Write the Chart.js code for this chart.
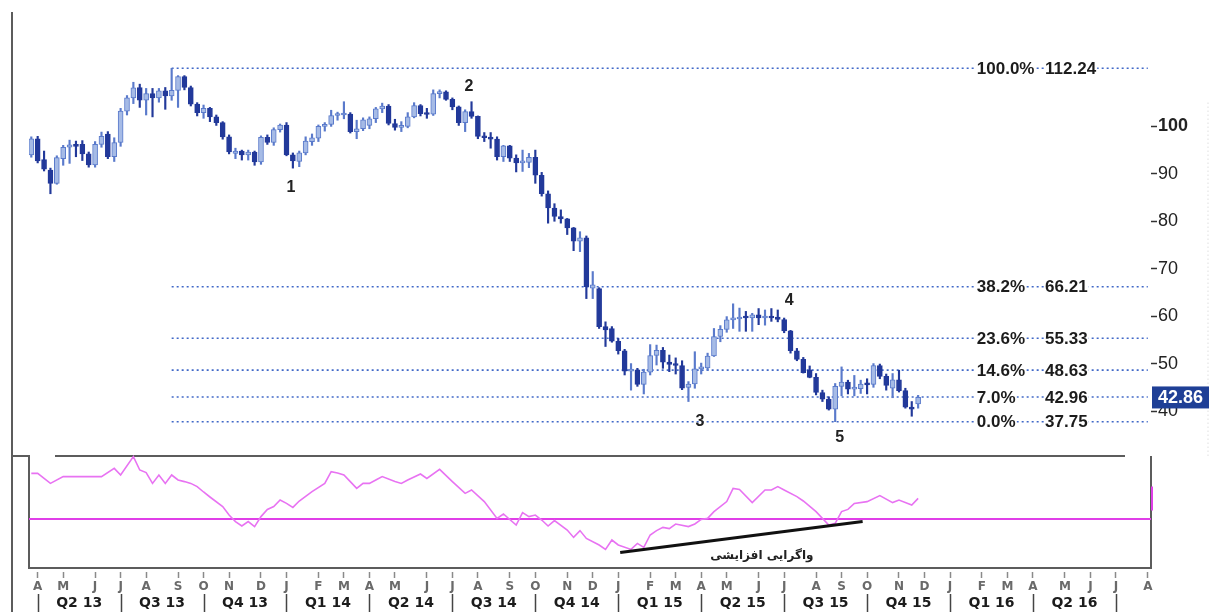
<!DOCTYPE html>
<html>
<head>
<meta charset="utf-8">
<title>Weekly crude chart - Fibonacci levels and momentum</title>
<script src="https://cdn.jsdelivr.net/npm/chart.js@4.4.1/dist/chart.umd.min.js"></script>
<style>
    html, body { margin: 0; padding: 0; background: #fff; }
    #wrap { width: 1216px; height: 612px; }
</style>
</head>
<body>
<div id="wrap"><canvas id="priceChart" width="1216" height="612"></canvas></div>
<script>
// x axis unit = weeks, week 0 = week of 1 Apr 2013
const firstWeek = -1;

const open = [
    94.0, 97.4, 93.0, 90.8, 88.0, 93.2, 95.6, 96.1, 96.2, 94.2,
    91.9, 96.2, 98.4, 93.6, 96.6, 103.2, 106.0, 108.2, 105.5, 106.9,
    106.0, 107.5, 106.4, 107.6, 110.5, 108.2, 104.7, 102.9, 103.8, 102.0,
    100.8, 97.8, 94.3, 94.8, 94.0, 94.6, 92.5, 97.7, 96.6, 99.3,
    100.3, 94.0, 92.6, 94.4, 96.8, 97.5, 100.0, 100.4, 102.3, 102.4,
    102.6, 98.9, 99.5, 100.2, 101.6, 103.7, 104.3, 100.6, 99.8, 100.0,
    102.0, 104.4, 102.8, 102.6, 106.9, 107.3, 105.7, 104.1, 100.8, 103.1,
    102.1, 97.9, 97.6, 97.3, 93.6, 95.9, 93.3, 92.3, 92.4, 93.5,
    89.7, 85.8, 82.8, 81.0, 80.5, 78.6, 75.8, 76.5, 65.9, 65.8,
    57.8, 57.4, 54.7, 52.7, 48.4, 48.7, 45.6, 48.2, 51.7, 52.8,
    50.3, 49.8, 49.6, 45.0, 45.7, 48.9, 49.1, 51.6, 55.7, 57.2,
    59.2, 59.4, 59.9, 59.6, 60.3, 59.6, 60.0, 59.8, 59.3, 56.9,
    52.7, 50.9, 48.7, 47.1, 43.9, 42.5, 40.4, 45.2, 46.1, 44.6,
    44.7, 45.7, 45.6, 49.6, 47.3, 44.8, 46.6, 44.3, 40.8, 41.5
];
const high = [
    97.8, 97.9, 94.8, 91.2, 93.8, 96.0, 97.1, 96.9, 97.0, 94.6,
    96.8, 98.8, 98.9, 97.6, 103.8, 106.5, 109.3, 108.9, 108.0, 108.0,
    108.0, 108.2, 112.24, 110.7, 110.7, 108.5, 105.0, 104.5, 104.0, 102.4,
    101.0, 98.2, 95.4, 95.0, 95.0, 94.8, 98.0, 98.2, 99.7, 100.5,
    100.8, 94.4, 94.8, 97.8, 98.4, 100.3, 100.8, 103.4, 103.0, 105.2,
    102.9, 101.3, 101.8, 102.0, 104.0, 104.9, 104.6, 101.5, 101.0, 102.9,
    105.0, 104.6, 103.8, 107.7, 107.7, 107.5, 106.0, 104.3, 103.5, 105.2,
    102.2, 98.7, 98.7, 97.8, 96.0, 96.0, 94.0, 95.0, 94.3, 95.0,
    90.3, 86.4, 83.7, 82.4, 80.6, 78.7, 77.8, 76.9, 69.4, 66.0,
    58.8, 57.8, 55.3, 53.0, 50.0, 49.0, 48.8, 54.0, 53.9, 53.4,
    51.8, 51.2, 50.6, 46.2, 52.5, 50.1, 52.2, 57.4, 58.0, 59.9,
    62.6, 61.7, 61.0, 60.6, 61.6, 61.3, 61.6, 61.3, 59.6, 57.0,
    53.2, 51.3, 49.5, 47.9, 44.4, 43.0, 45.8, 49.3, 46.5, 47.5,
    46.5, 46.8, 50.0, 49.9, 47.8, 47.9, 48.6, 44.8, 42.0, 43.3
];
const low = [
    93.5, 92.3, 90.6, 85.8, 87.8, 91.8, 92.2, 93.6, 92.8, 91.4,
    91.4, 95.6, 93.2, 92.6, 95.8, 102.4, 104.8, 104.0, 102.4, 102.0,
    105.1, 103.6, 105.5, 104.0, 107.7, 104.3, 102.2, 101.7, 101.0, 100.2,
    97.3, 94.2, 93.2, 92.9, 92.9, 91.8, 92.0, 96.2, 96.0, 98.8,
    93.8, 91.2, 91.5, 94.0, 96.0, 96.8, 99.0, 100.0, 101.3, 101.6,
    98.6, 97.4, 99.1, 99.5, 100.8, 102.9, 100.3, 99.2, 98.9, 99.7,
    101.8, 102.2, 101.7, 102.3, 106.0, 105.5, 103.5, 100.2, 98.9, 101.7,
    97.4, 96.8, 95.4, 92.9, 92.6, 92.6, 90.4, 90.5, 91.3, 88.0,
    85.3, 79.6, 80.0, 79.6, 77.2, 73.8, 73.6, 63.7, 63.7, 57.4,
    53.6, 54.5, 52.0, 47.6, 44.4, 45.2, 43.6, 47.6, 49.7, 49.0,
    48.3, 47.8, 44.5, 42.0, 44.8, 47.8, 48.6, 51.5, 54.6, 56.6,
    57.4, 56.8, 56.8, 56.8, 58.2, 58.1, 58.9, 58.8, 56.5, 52.2,
    50.6, 48.0, 47.0, 43.4, 42.0, 40.2, 37.75, 43.2, 43.6, 43.2,
    43.7, 43.6, 45.0, 46.8, 44.4, 42.8, 44.0, 40.6, 38.9, 40.6
];
const close = [
    97.4, 92.7, 91.0, 88.0, 93.4, 95.6, 96.1, 95.8, 94.2, 91.9,
    96.2, 97.9, 93.6, 96.6, 103.2, 106.0, 108.1, 105.5, 106.9, 106.0,
    107.5, 106.4, 107.6, 110.5, 108.2, 104.7, 102.9, 103.8, 102.0, 100.8,
    97.8, 94.6, 94.8, 94.0, 94.6, 92.5, 97.7, 96.6, 99.3, 100.3,
    94.0, 92.7, 94.4, 96.9, 97.6, 100.0, 100.4, 102.3, 102.6, 102.6,
    98.9, 99.5, 101.4, 101.6, 103.7, 104.3, 100.6, 99.8, 100.0, 102.0,
    104.4, 102.7, 102.5, 106.9, 107.3, 105.7, 104.1, 100.8, 103.1, 102.1,
    97.9, 97.6, 97.3, 93.6, 95.9, 93.3, 92.3, 92.4, 93.5, 89.7,
    85.8, 82.8, 81.0, 80.5, 78.6, 75.8, 76.5, 66.2, 66.6, 57.8,
    57.1, 54.7, 52.7, 48.4, 48.7, 45.6, 48.2, 51.7, 52.8, 50.3,
    49.8, 49.6, 44.8, 45.7, 48.9, 49.1, 51.6, 55.7, 57.2, 59.2,
    59.4, 59.7, 59.6, 60.3, 59.6, 60.0, 59.6, 59.3, 56.9, 52.7,
    50.9, 48.1, 47.1, 43.9, 42.5, 40.4, 45.2, 46.1, 44.6, 44.7,
    45.7, 45.5, 49.6, 47.3, 45.4, 46.6, 44.3, 40.8, 40.4, 42.86
];

// momentum oscillator: [week, value]
const oscPoints = [
    [-1, 22.8], [0, 22.8], [2, 17.8], [4, 21.2], [10, 21.2], [12, 25.3], [13, 22.0],
    [15, 31.2], [16, 24.5], [17, 23.2], [18, 17.8], [19, 22.0], [20, 17.8], [21, 22.0],
    [22, 19.5], [23, 18.7], [24, 17.8], [25, 16.2], [26, 13.5], [27, 11.0], [29, 6.2],
    [30, 2.0], [31, -1.3], [32, -3.5], [33, -1.3], [34, -3.8], [35, 1.2], [36, 4.8],
    [37, 6.2], [38, 9.5], [39, 7.8], [40, 5.8], [41, 9.0], [43, 13.7], [45, 17.8],
    [46, 23.7], [47, 23.0], [48, 22.0], [49, 18.7], [50, 15.3], [51, 17.8], [52, 17.8],
    [53, 19.5], [54, 21.2], [56, 18.7], [57, 17.8], [58, 19.5], [60, 22.5], [61, 20.3],
    [63, 24.8], [65, 18.7], [67, 12.8], [68, 14.5], [70, 8.7], [72, 0.3], [73, 2.5],
    [75, -3.0], [76, 3.2], [77, 1.2], [78, 2.0], [79, -0.5], [80, -3.5], [81, -0.8],
    [83, -5.5], [84, -9.2], [85, -5.8], [86, -9.7], [88, -13.0], [89, -15.2], [90, -10.5],
    [91, -13.0], [93, -15.2], [94, -12.2], [95, -14.2], [96, -8.0], [97, -5.8], [98, -4.2],
    [99, -4.8], [100, -2.5], [102, -3.8], [103, -2.5], [104, -0.2], [105, 0.3], [106, 3.7],
    [108, 8.7], [109, 15.3], [110, 14.8], [112, 8.2], [114, 14.5], [115, 14.5], [116, 16.2],
    [117, 14.5], [119, 11.2], [120, 9.0], [122, 3.7], [124, -3.0], [125, -2.2], [126, 3.7],
    [127, 4.8], [128, 7.8], [130, 8.7], [132, 11.7], [134, 8.2], [135, 9.5], [137, 7.0],
    [138, 10.3]
];

// Fibonacci retracement of the Aug 2013 high -> Aug 2015 low
const fibLabels = ['100.0%', '38.2%', '23.6%', '14.6%', '7.0%', '0.0%'];
const fibValues = [112.24, 66.21, 55.33, 48.63, 42.96, 37.75];
const fibFromWeek = 21;
const fibToWeek = 174;
const fibPctWeek = 147.2;
const fibValWeek = 157.9;

// Elliott wave counts
const waveLabels = ['1', '2', '3', '4', '5'];
const waveWeeks = [39.7, 67.6, 103.8, 117.8, 125.7];
const wavePrices = [87.0, 108.3, 37.7, 63.2, 34.3];

// bullish divergence trend line on the oscillator
const divWeeks = [91.3, 129.3];
const divValues = [-16.7, -1.3];
const divText = 'واگرایی افزایشی';
const divTextAt = [113.5, -18.5];

const lastPrice = 42.86;

// bottom axis: months (week of first trading day) and quarters
const monthWeeks = [0, 4, 9, 13, 17, 22, 26, 30, 35, 39, 44, 48, 52, 56, 61, 65, 69, 74, 78, 83, 87,
    91, 96, 100, 104, 108, 113, 117, 122, 126, 130, 135, 139, 143, 148, 152, 156, 161, 165, 169, 174];
const monthLetters = ['A', 'M', 'J', 'J', 'A', 'S', 'O', 'N', 'D', 'J', 'F', 'M', 'A', 'M', 'J', 'J', 'A', 'S', 'O', 'N', 'D',
    'J', 'F', 'M', 'A', 'M', 'J', 'J', 'A', 'S', 'O', 'N', 'D', 'J', 'F', 'M', 'A', 'M', 'J', 'J', 'A'];
const quarterStarts = [0, 13, 26, 39, 52, 65, 78, 91, 104, 117, 130, 143, 156, 169];
const quarterLabels = ['Q2 13', 'Q3 13', 'Q4 13', 'Q1 14', 'Q2 14', 'Q3 14', 'Q4 14',
    'Q1 15', 'Q2 15', 'Q3 15', 'Q4 15', 'Q1 16', 'Q2 16'];
const priceTicks = [40, 50, 60, 70, 80, 90, 100];

// scale windows (price panel on top, oscillator panel below)
const xMin = -1.36, xMax = 174.5;
const priceMin = 6.91, priceMax = 126.64;
const oscMin = -24.5, oscMax = 259.5;
const oscPanelTop = 31.5;

const UP_FILL = '#a6bbe6', UP_LINE = '#5a7acb', DOWN = '#22399a';
const FIB = '#4169c8', MAGENTA = '#e03fe8', OSC = '#e873f2';
const SANS = '"Liberation Sans", Arial, sans-serif';

const isUp = i => close[i] >= open[i];

const overlay = {
    id: 'overlay',
    beforeDatasetsDraw(chart) {
        const { ctx, chartArea: a, scales } = chart;
        const top = scales.yOsc.getPixelForValue(oscPanelTop);
        ctx.save();
        ctx.strokeStyle = '#5c5c5c';
        ctx.lineWidth = 2;
        ctx.beginPath();
        ctx.moveTo(a.left - 17, 12); ctx.lineTo(a.left - 17, 612);
        ctx.moveTo(a.left - 17, top); ctx.lineTo(a.left, top);
        ctx.lineTo(a.left, a.bottom); ctx.lineTo(a.right, a.bottom); ctx.lineTo(a.right, top);
        ctx.moveTo(a.left + 26, top); ctx.lineTo(a.right - 26, top);
        ctx.stroke();
        // faint dotted guide on the right edge
        ctx.strokeStyle = '#cfcfcf';
        ctx.lineWidth = 1;
        ctx.setLineDash([1, 3]);
        ctx.beginPath();
        ctx.moveTo(a.right + 57, scales.y.getPixelForValue(105)); ctx.lineTo(a.right + 57, scales.y.getPixelForValue(30));
        ctx.stroke();
        ctx.restore();
    },
    afterDatasetsDraw(chart) {
        const { ctx, scales: { x, y, yOsc } } = chart;
        ctx.save();
        ctx.textBaseline = 'middle';
        ctx.font = 'bold 17px ' + SANS;
        ctx.fillStyle = '#1c1c1c';
        fibValues.forEach((v, i) => {
            const py = y.getPixelForValue(v);
            [[fibLabels[i], fibPctWeek], [v.toFixed(2), fibValWeek]].forEach(([t, w]) => {
                const px = x.getPixelForValue(w);
                const tw = ctx.measureText(t).width;
                ctx.fillStyle = '#fff';
                ctx.fillRect(px - 1, py - 7, tw + 2, 14);
                ctx.fillStyle = '#1c1c1c';
                ctx.fillText(t, px, py + 1);
            });
        });
        ctx.textAlign = 'center';
        ctx.font = 'bold 16px ' + SANS;
        ctx.fillStyle = '#222';
        waveLabels.forEach((t, i) => {
            ctx.fillText(t, x.getPixelForValue(waveWeeks[i]), y.getPixelForValue(wavePrices[i]));
        });
        ctx.font = 'bold 12px "DejaVu Sans", sans-serif';
        ctx.fillText(divText, x.getPixelForValue(divTextAt[0]), yOsc.getPixelForValue(divTextAt[1]));
        ctx.restore();
    },
    afterDraw(chart) {
        const { ctx, chartArea: a, scales: { x, y, yOsc } } = chart;
        ctx.save();
        // quarter row
        ctx.strokeStyle = '#444';
        ctx.lineWidth = 1.5;
        ctx.beginPath();
        quarterStarts.forEach(w => {
            const px = Math.round(x.getPixelForValue(w)) + 0.5;
            ctx.moveTo(px, a.bottom + 26); ctx.lineTo(px, a.bottom + 44);
        });
        ctx.stroke();
        ctx.font = 'bold 14px "DejaVu Sans", sans-serif';
        ctx.fillStyle = '#1c1c1c';
        ctx.textAlign = 'center';
        ctx.textBaseline = 'middle';
        quarterLabels.forEach((t, i) => {
            const mid = (quarterStarts[i] + quarterStarts[i + 1]) / 2;
            ctx.fillText(t, x.getPixelForValue(mid), a.bottom + 35);
        });
        // last price tag
        const py = y.getPixelForValue(lastPrice);
        ctx.fillStyle = '#1f3f96';
        ctx.fillRect(a.right + 1, py - 11, 57, 22);
        ctx.fillStyle = '#fff';
        ctx.font = 'bold 18px ' + SANS;
        ctx.fillText(lastPrice.toFixed(2), a.right + 29.5, py + 1);
        // last oscillator value marker
        const oy = yOsc.getPixelForValue(oscPoints[oscPoints.length - 1][1]);
        ctx.strokeStyle = MAGENTA;
        ctx.lineWidth = 2;
        ctx.beginPath();
        ctx.moveTo(a.right + 1, oy - 12); ctx.lineTo(a.right + 1, oy + 12);
        ctx.stroke();
        ctx.restore();
    }
};

const candleX = i => firstWeek + i;

// keep the plot box fixed: no extra room for edge labels
const fixPadding = s => {
    s.paddingTop = 0; s.paddingBottom = 0;
    s.paddingLeft = 0; s.paddingRight = 0;
};

new Chart(document.getElementById('priceChart'), {
    type: 'bar',
    data: {
        datasets: [
            ...fibValues.map(v => ({
                type: 'line',
                yAxisID: 'y',
                data: [{ x: fibFromWeek, y: v }, { x: fibToWeek, y: v }],
                borderColor: FIB,
                borderWidth: 1.6,
                borderDash: [2, 3],
                pointRadius: 0,
                order: 10
            })),
            {
                type: 'bar',
                yAxisID: 'y',
                data: low.map((l, i) => ({ x: candleX(i), y: [l, high[i]] })),
                backgroundColor: ctx => isUp(ctx.dataIndex) ? UP_LINE : DOWN,
                barThickness: 1.5,
                grouped: false,
                order: 6
            },
            {
                type: 'bar',
                yAxisID: 'y',
                data: open.map((o, i) => ({ x: candleX(i), y: [o, close[i]] })),
                backgroundColor: ctx => isUp(ctx.dataIndex) ? UP_FILL : DOWN,
                borderColor: ctx => isUp(ctx.dataIndex) ? UP_LINE : DOWN,
                borderWidth: 1,
                borderSkipped: false,
                barThickness: 5,
                minBarLength: 2,
                grouped: false,
                order: 5
            },
            {
                type: 'line',
                yAxisID: 'yOsc',
                data: [{ x: xMin, y: 0 }, { x: xMax, y: 0 }],
                borderColor: MAGENTA,
                borderWidth: 2,
                pointRadius: 0,
                order: 4
            },
            {
                type: 'line',
                yAxisID: 'yOsc',
                data: oscPoints.map(([w, v]) => ({ x: w, y: v })),
                borderColor: OSC,
                borderWidth: 1.6,
                pointRadius: 0,
                tension: 0,
                order: 3
            },
            {
                type: 'line',
                yAxisID: 'yOsc',
                data: divWeeks.map((w, i) => ({ x: w, y: divValues[i] })),
                borderColor: '#111',
                borderWidth: 3,
                pointRadius: 0,
                order: 2
            }
        ]
    },
    options: {
        responsive: false,
        animation: false,
        events: [],
        layout: { padding: { left: 29, right: 0, top: 0, bottom: 0 } },
        plugins: { legend: { display: false }, tooltip: { enabled: false } },
        scales: {
            x: {
                type: 'linear',
                min: xMin,
                max: xMax,
                offset: false,
                afterFit: s => { s.height = 44; fixPadding(s); },
                afterBuildTicks: s => { s.ticks = monthWeeks.map(v => ({ value: v })); },
                border: { display: false },
                grid: {
                    offset: false,
                    drawOnChartArea: false,
                    drawTicks: true,
                    tickLength: 10,
                    tickBorderDash: [0, 4, 6],
                    tickColor: '#8a8a8a',
                    tickWidth: 1.5
                },
                ticks: {
                    autoSkip: false,
                    maxRotation: 0,
                    padding: 2,
                    color: '#6a6a6a',
                    font: { family: '"DejaVu Sans", sans-serif', size: 12, weight: 'bold' },
                    callback: (v, i) => monthLetters[i]
                }
            },
            y: {
                type: 'linear',
                position: 'right',
                min: priceMin,
                max: priceMax,
                afterFit: s => { s.width = 65; fixPadding(s); },
                afterBuildTicks: s => { s.ticks = priceTicks.map(v => ({ value: v })); },
                border: { display: false },
                grid: { drawOnChartArea: false, drawTicks: true, tickLength: 6, tickColor: '#333', tickWidth: 1.5 },
                ticks: {
                    padding: 1,
                    color: '#222',
                    font: ctx => ({ family: SANS, size: 18, weight: ctx.tick && ctx.tick.value === 100 ? 'bold' : 'normal' }),
                    callback: v => String(v)
                }
            },
            yOsc: {
                type: 'linear',
                display: false,
                min: oscMin,
                max: oscMax
            }
        }
    },
    plugins: [overlay]
});
</script>
</body>
</html>
